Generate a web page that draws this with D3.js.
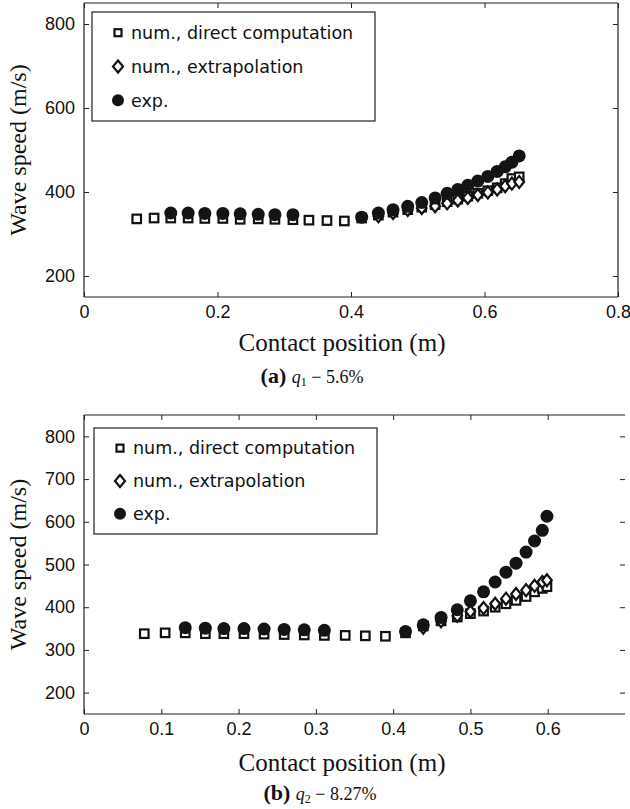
<!DOCTYPE html>
<html>
<head>
<meta charset="utf-8">
<script src="https://cdn.jsdelivr.net/npm/d3@7/dist/d3.min.js"></script>
<style>
  html, body { margin: 0; padding: 0; background: #fff; }
  svg { display: block; }
</style>
</head>
<body>
<svg id="chart" width="630" height="809"></svg>
<script>
// ---------- Data: panel (a) q1 = 5.6% ----------
const posA = [0.079, 0.105, 0.130, 0.156, 0.181, 0.208, 0.234, 0.261, 0.286, 0.313,
              0.337, 0.364, 0.390, 0.416, 0.441, 0.463, 0.485, 0.506, 0.526, 0.544,
              0.560, 0.575, 0.590, 0.605, 0.619, 0.631, 0.641, 0.652];
const directA = [336, 338, 338, 338, 337, 337, 335, 336, 335, 334,
                 333, 332, 331, 338, 345, 352, 358, 364, 370, 377,
                 383, 390, 397, 403, 410, 420, 432, 436];
const extrapA = [null, null, null, null, null, null, null, null, null, null,
                 null, null, null, null, 342, 350, 357, 362, 366, 373,
                 380, 386, 393, 399, 406, 414, 420, 424];
const expA = [null, null, 350, 350, 349, 349, 348, 347, 346, 346,
              null, null, null, 340, 350, 358, 366, 375, 386, 397,
              406, 416, 426, 437, 449, 460, 471, 486];
const xTicksA = [0, 0.2, 0.4, 0.6, 0.8];
const yTicksA = [200, 400, 600, 800];

// ---------- Data: panel (b) q2 = 8.27% ----------
const posB = [0.078, 0.105, 0.131, 0.157, 0.181, 0.207, 0.233, 0.259, 0.285, 0.311,
              0.338, 0.364, 0.390, 0.416, 0.439, 0.462, 0.483, 0.500, 0.517, 0.532,
              0.546, 0.559, 0.572, 0.583, 0.593, 0.599];
const directB = [338, 340, 340, 338, 338, 338, 337, 336, 335, 334,
                 334, 333, 332, 340, 356, 368, 377, 385, 391, 400,
                 408, 416, 425, 436, 444, 448];
const extrapB = [null, null, null, null, null, null, null, null, null, null,
                 null, null, null, null, 352, 367, 380, 390, 398, 408,
                 420, 431, 440, 450, 459, 463];
const expB = [null, null, 352, 351, 350, 350, 349, 348, 347, 346,
              null, null, null, 343, 359, 376, 394, 415, 436, 459,
              482, 503, 529, 555, 580, 613];
const xTicksB = [0, 0.1, 0.2, 0.3, 0.4, 0.5, 0.6];
const yTicksB = [200, 300, 400, 500, 600, 700, 800];

const seriesNames = ["num., direct computation", "num., extrapolation", "exp."];
const yLabel = "Wave speed (m/s)";
const xLabel = "Contact position (m)";

// ---------- Drawing ----------
const svg = d3.select("#chart");
const axisColor = "#222";
const tickFont = "'Liberation Sans', Arial, sans-serif";
const serifFont = "'Liberation Serif', 'DejaVu Serif', serif";
const legendFont = "'DejaVu Sans', sans-serif";

function fmtTick(v) { return v === 0 ? "0" : String(+v.toFixed(2)); }

function panel(cfg) {
  const g = svg.append("g");
  const x = d3.scaleLinear().domain(cfg.xDomain).range([cfg.left, cfg.right]);
  const y = d3.scaleLinear().domain([150, 850]).range([cfg.bottom, cfg.top]);

  const bottomAxis = d3.axisBottom(x).tickValues(cfg.xTicks).tickSize(-5).tickPadding(8).tickFormat(fmtTick);
  const gb = g.append("g").attr("transform", `translate(0,${cfg.bottom})`).call(bottomAxis);
  const topAxis = d3.axisTop(x).tickValues(cfg.xTicks).tickSize(-5).tickFormat("");
  const gt = g.append("g").attr("transform", `translate(0,${cfg.top})`).call(topAxis);
  const leftAxis = d3.axisLeft(y).tickValues(cfg.yTicks).tickSize(-5).tickPadding(9).tickFormat(d3.format("d"));
  const gl = g.append("g").attr("transform", `translate(${cfg.left},0)`).call(leftAxis);
  const rightAxis = d3.axisRight(y).tickValues(cfg.yTicks).tickSize(-5).tickFormat("");
  const gr = g.append("g").attr("transform", `translate(${cfg.right},0)`).call(rightAxis);
  if (!cfg.rightLine) gr.select(".domain").remove();

  [gb, gt, gl, gr].forEach(a => {
    a.selectAll(".domain").attr("stroke", axisColor).attr("stroke-width", 1.2);
    a.selectAll(".tick line").attr("stroke", axisColor).attr("stroke-width", 1);
    a.selectAll(".tick text").attr("fill", "#111").style("font-family", tickFont).style("font-size", "18px");
  });
  [gb, gt].forEach(a => a.select(".domain").attr("d", `M${cfg.left},0H${cfg.right}`));
  [gl, gr].forEach(a => a.select(".domain").attr("d", `M0,${cfg.bottom}V${cfg.top}`));

  const sq = 8.5, dm = 6;
  const pts = (vals) => cfg.pos.map((p, i) => ({ p, v: vals[i] })).filter(d => d.v != null);

  g.append("g").selectAll("rect").data(pts(cfg.direct)).join("rect")
    .attr("x", d => x(d.p) - sq / 2).attr("y", d => y(d.v) - sq / 2)
    .attr("width", sq).attr("height", sq)
    .attr("fill", "#fff").attr("stroke", "#111").attr("stroke-width", 2.2);

  g.append("g").selectAll("path").data(pts(cfg.extrap)).join("path")
    .attr("d", d => { const cx = x(d.p), cy = y(d.v); return `M${cx},${cy - dm}L${cx + dm * 0.8},${cy}L${cx},${cy + dm}L${cx - dm * 0.8},${cy}Z`; })
    .attr("fill", "#fff").attr("stroke", "#111").attr("stroke-width", 2.2);

  g.append("g").selectAll("circle").data(pts(cfg.exp)).join("circle")
    .attr("cx", d => x(d.p)).attr("cy", d => y(d.v)).attr("r", 6.5)
    .attr("fill", "#141414");

  // legend
  const lg = g.append("g");
  lg.append("rect").attr("x", cfg.legX).attr("y", cfg.legY).attr("width", cfg.legW).attr("height", cfg.legH)
    .attr("fill", "#fff").attr("stroke", axisColor).attr("stroke-width", 1.2);
  const rowY = [cfg.legY + cfg.legH * 0.19, cfg.legY + cfg.legH * 0.5, cfg.legY + cfg.legH * 0.81];
  const mx = cfg.legX + 26;
  lg.append("rect").attr("x", mx - 3.5).attr("y", rowY[0] - 3.5).attr("width", 7).attr("height", 7)
    .attr("fill", "#fff").attr("stroke", "#111").attr("stroke-width", 2.2);
  lg.append("path").attr("d", `M${mx},${rowY[1] - 6}L${mx + 5},${rowY[1]}L${mx},${rowY[1] + 6}L${mx - 5},${rowY[1]}Z`)
    .attr("fill", "#fff").attr("stroke", "#111").attr("stroke-width", 2.2);
  lg.append("circle").attr("cx", mx).attr("cy", rowY[2]).attr("r", 6).attr("fill", "#141414");
  seriesNames.forEach((s, i) => {
    lg.append("text").attr("x", mx + 13).attr("y", rowY[i]).attr("dy", "0.36em")
      .style("font-family", legendFont).style("font-size", "17.5px").attr("fill", "#111").text(s);
  });

  // axis labels
  g.append("text").attr("x", 342).attr("y", cfg.bottom + cfg.xLabelDy)
    .attr("text-anchor", "middle").style("font-family", serifFont).style("font-size", "25px").attr("fill", "#111")
    .text(xLabel);
  g.append("text").attr("transform", `translate(26,${(cfg.top + cfg.bottom) / 2}) rotate(-90)`)
    .attr("text-anchor", "middle").style("font-family", serifFont).style("font-size", "24px").attr("fill", "#111")
    .text(yLabel);

  // caption
  const cap = g.append("text").attr("x", cfg.capX).attr("y", cfg.bottom + cfg.capDy).attr("text-anchor", "middle")
    .style("font-family", serifFont).attr("fill", "#111");
  cap.append("tspan").style("font-weight", "bold").style("font-size", "22px").text(cfg.capLetter + " ");
  cap.append("tspan").style("font-style", "italic").style("font-size", "18px").text("q");
  cap.append("tspan").style("font-size", "12px").attr("dy", 3).text(cfg.capSub);
  cap.append("tspan").style("font-size", "18px").attr("dy", -3).text(" \u2212 " + cfg.capVal);
}

panel({
  xDomain: [0, 0.8], left: 84, right: 618, top: 3, bottom: 297,
  xTicks: xTicksA, yTicks: yTicksA, rightLine: true,
  pos: posA, direct: directA, extrap: extrapA, exp: expA,
  legX: 92, legY: 12, legW: 283, legH: 109, xLabelDy: 54, capDy: 86, capX: 312,
  capLetter: "(a)", capSub: "1", capVal: "5.6%"
});
panel({
  xDomain: [0, 0.7], left: 84, right: 625, top: 415, bottom: 714,
  xTicks: xTicksB, yTicks: yTicksB, rightLine: false,
  pos: posB, direct: directB, extrap: extrapB, exp: expB,
  legX: 94, legY: 428, legW: 283, legH: 106, xLabelDy: 57, capDy: 86, capX: 320,
  capLetter: "(b)", capSub: "2", capVal: "8.27%"
});
</script>
</body>
</html>
